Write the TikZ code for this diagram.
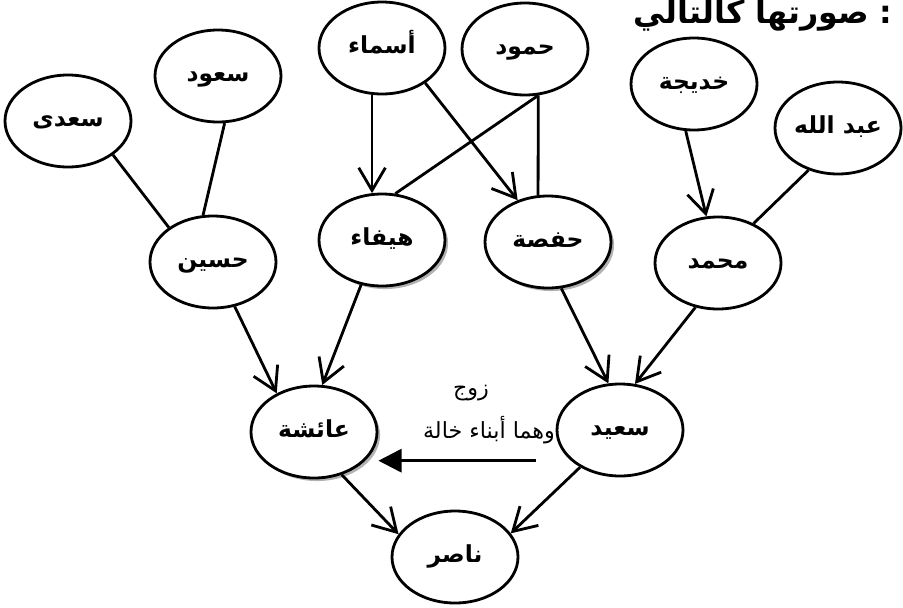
\documentclass[tikz,border=0pt]{standalone}
\usepackage{fontspec}
\usetikzlibrary{arrows.meta,shapes.geometric,shadows}
\newfontfamily\arabicfont[Script=Arabic]{DejaVu Sans}
\TeXXeTstate=1
\newcommand{\arb}[1]{\beginR#1\endR}
\tikzstyle{pn}=[ellipse,draw=black,fill=white,line width=2.4pt,inner sep=0pt,
  minimum width=3.78cm,minimum height=2.76cm,text height=2.4ex,text depth=0.4ex,
  font=\arabicfont\bfseries\fontsize{20}{23}\selectfont]
\tikzstyle{pns}=[pn,drop shadow={shadow xshift=2.6pt,shadow yshift=-2.6pt,fill=black!60}]
\tikzstyle{kid}=[-{Straight Barb[length=6.8mm,width=8mm]}]
\tikzstyle{tie}=[-{Triangle[length=7mm,width=7mm]}]
\tikzstyle{note}=[font=\arabicfont\fontsize{19}{22}\selectfont]
\tikzstyle{none}=[]

\begin{document}
\begin{tikzpicture}[x=0.03cm, y=-0.03cm, line width=2.4pt]
            \useasboundingbox (0,0) rectangle (903,607);
            \clip (0,0) rectangle (903,607);
            \node [style=pn] (0) at (68, 121) {\arb{سعدى}};
            \node [style=pn] (1) at (218, 76) {\arb{سعود}};
            \node [style=pn] (2) at (382, 48) {\arb{أسماء}};
            \node [style=pn] (3) at (525, 49) {\arb{حمود}};
            \node [style=pn] (4) at (694, 84) {\arb{خديجة}};
            \node [style=pn] (5) at (838, 128) {\arb{عبد الله}};
            \node [style=pn] (6) at (213, 262) {\arb{حسين}};
            \node [style=pns] (7) at (382, 240) {\arb{هيفاء}};
            \node [style=pns] (8) at (548, 242) {\arb{حفصة}};
            \node [style=pn] (9) at (718, 263) {\arb{محمد}};
            \node [style=pns] (10) at (314, 432) {\arb{عائشة}};
            \node [style=pn] (11) at (620, 430) {\arb{سعيد}};
            \node [style=pn] (12) at (455, 557) {\arb{ناصر}};
            \node [style=none, font=\arabicfont\bfseries\fontsize{27}{30}\selectfont, anchor=base east] (13) at (898, 23) {\arb{صورتها كالتالي}\ :};
            \node [style=note] (14) at (471, 393) {\arb{زوج}};
            \node [style=note] (15) at (489, 430) {\arb{وهما أبناء خالة}};
            \draw (0.-37) to (6.142);
            \draw (1.-82) to (6.102);
            \draw [style=kid] (2.-102) to (7.102);
            \draw [style=kid] (2.-39) to (8.126);
            \draw (3.-74) to (7.74);
            \draw (3.-74) to (8.102);
            \draw [style=kid] (4.-100) to (9.104);
            \draw (5.-125) to (9.48);
            \draw [style=kid] (6.-64) to (10.134);
            \draw [style=kid] (7.-115) to (10.80);
            \draw [style=kid] (8.-74) to (11.104);
            \draw [style=kid] (9.-117) to (11.72);
            \draw [style=tie, shorten <=1.05cm] (11.-148) to (11.-148 -| 10.east);
            \draw [style=kid] (10.-57) to (12.158);
            \draw [style=kid] (11.-137) to (12.23);
    \end{tikzpicture}
\end{document}
